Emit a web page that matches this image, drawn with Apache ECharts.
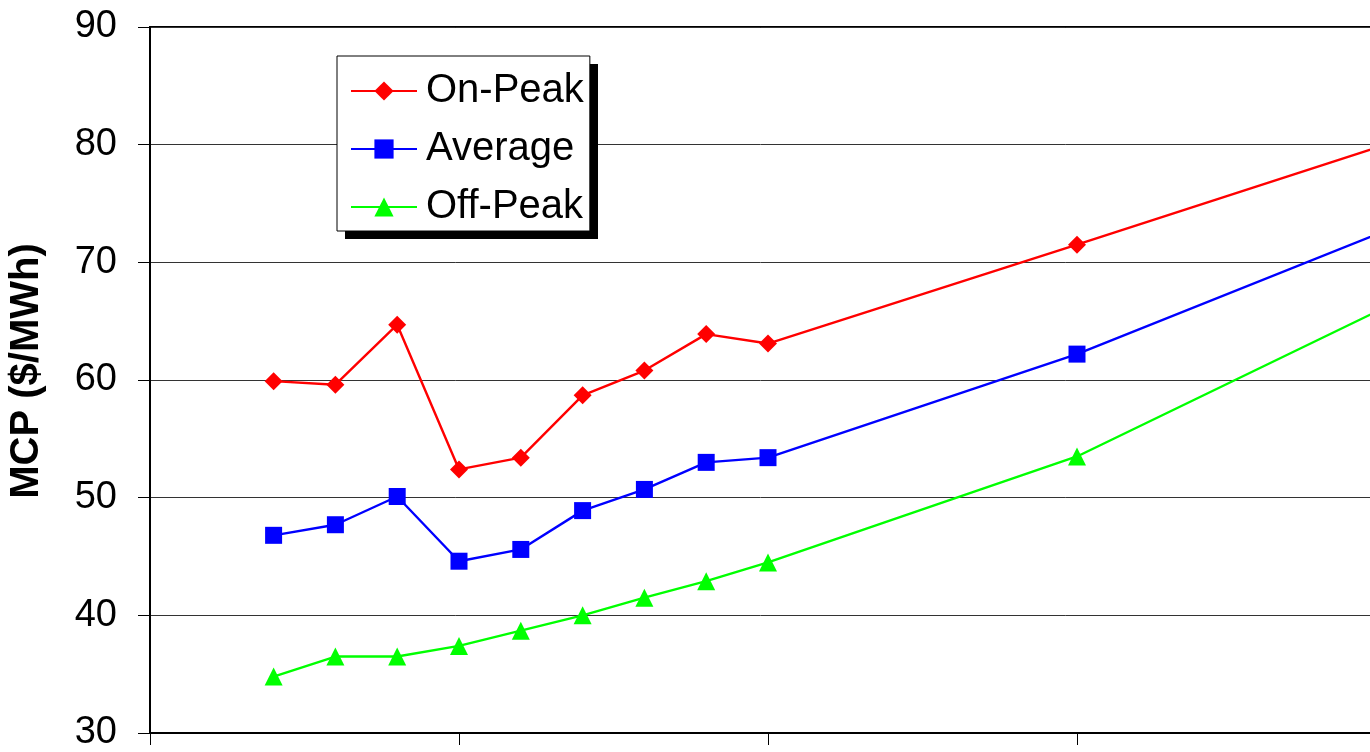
<!DOCTYPE html>
<html>
<head>
<meta charset="utf-8">
<title>MCP ($/MWh)</title>
<script src="https://cdn.jsdelivr.net/npm/echarts@6/dist/echarts.min.js"></script>
<style>
  html, body { margin: 0; padding: 0; background: #fff; }
  #chart { width: 1370px; height: 752px; }
</style>
</head>
<body>
<div id="chart"></div>
<script>
// Years of each observation
const years = [2002, 2003, 2004, 2005, 2006, 2007, 2008, 2009, 2010, 2015, 2020];
// Market clearing price, $/MWh
const onPeak  = [59.9, 59.6, 64.7, 52.4, 53.4, 58.7, 60.8, 63.9, 63.1, 71.5, 80.0];
const average = [46.8, 47.7, 50.1, 44.6, 45.6, 48.9, 50.7, 53.0, 53.4, 62.2, 72.7];
const offPeak = [34.8, 36.5, 36.5, 37.4, 38.7, 40.0, 41.5, 42.9, 44.5, 53.5, 66.2];
const seriesNames = ['On-Peak', 'Average', 'Off-Peak'];

const FONT = '"Liberation Sans", Arial, sans-serif';

function pairs(values) {
  return years.map((y, i) => [y, values[i]]);
}

function lineSeries(name, values, color, symbol, size) {
  return {
    name: name,
    type: 'line',
    data: pairs(values),
    symbol: symbol,
    symbolSize: size,
    showAllSymbol: true,
    lineStyle: { color: color, width: 2.4 },
    itemStyle: { color: color },
    emphasis: { disabled: true },
    animation: false,
    z: 3
  };
}

const chart = echarts.init(document.getElementById('chart'));
chart.setOption({
  backgroundColor: '#fff',
  animation: false,
  grid: {
    left: 150, top: 27, right: -16, bottom: 19,
    outerBoundsMode: 'none',
    containLabel: false,
    show: true, borderColor: '#000', borderWidth: 2, backgroundColor: 'transparent'
  },
  // drop shadow behind the legend box
  graphic: [{
    type: 'rect',
    z: 1,
    shape: { x: 345, y: 64, width: 253, height: 175 },
    style: { fill: '#000' }
  }],
  legend: {
    data: seriesNames,
    orient: 'vertical',
    left: 337,
    top: 56,
    z: 5,
    itemWidth: 66,
    itemHeight: 24,
    itemGap: 18,
    padding: [15, 6, 4, 13],
    backgroundColor: '#fff',
    borderColor: '#000',
    borderWidth: 1,
    selectedMode: false,
    textStyle: { fontFamily: FONT, fontSize: 40, lineHeight: 40, color: '#000', padding: [0, 0, 0, 4] }
  },
  xAxis: {
    type: 'value',
    min: 2000,
    max: 2020,
    interval: 5,
    axisLine: { lineStyle: { color: '#000', width: 2 } },
    axisTick: { show: true, length: 12, lineStyle: { color: '#000', width: 1 } },
    axisLabel: { show: false },
    splitLine: { show: false }
  },
  yAxis: {
    type: 'value',
    min: 30,
    max: 90,
    interval: 10,
    name: 'MCP ($/MWh)',
    nameLocation: 'middle',
    nameGap: 103,
    nameTextStyle: { fontFamily: FONT, fontSize: 40, fontWeight: 'bold', color: '#000', padding: [0, 0, 0, 18] },
    axisLine: { show: true, lineStyle: { color: '#000', width: 2 } },
    axisTick: { show: true, length: 12, lineStyle: { color: '#000', width: 1 } },
    axisLabel: { fontFamily: FONT, fontSize: 38, color: '#000', margin: 33 },
    splitLine: { show: true, lineStyle: { color: '#333', width: 1 } }
  },
  series: [
    lineSeries('On-Peak', onPeak, '#ff0000', 'diamond', 18),
    lineSeries('Average', average, '#0000ff', 'rect', 17),
    lineSeries('Off-Peak', offPeak, '#00ff00', 'triangle', 18)
  ]
});
</script>
</body>
</html>
